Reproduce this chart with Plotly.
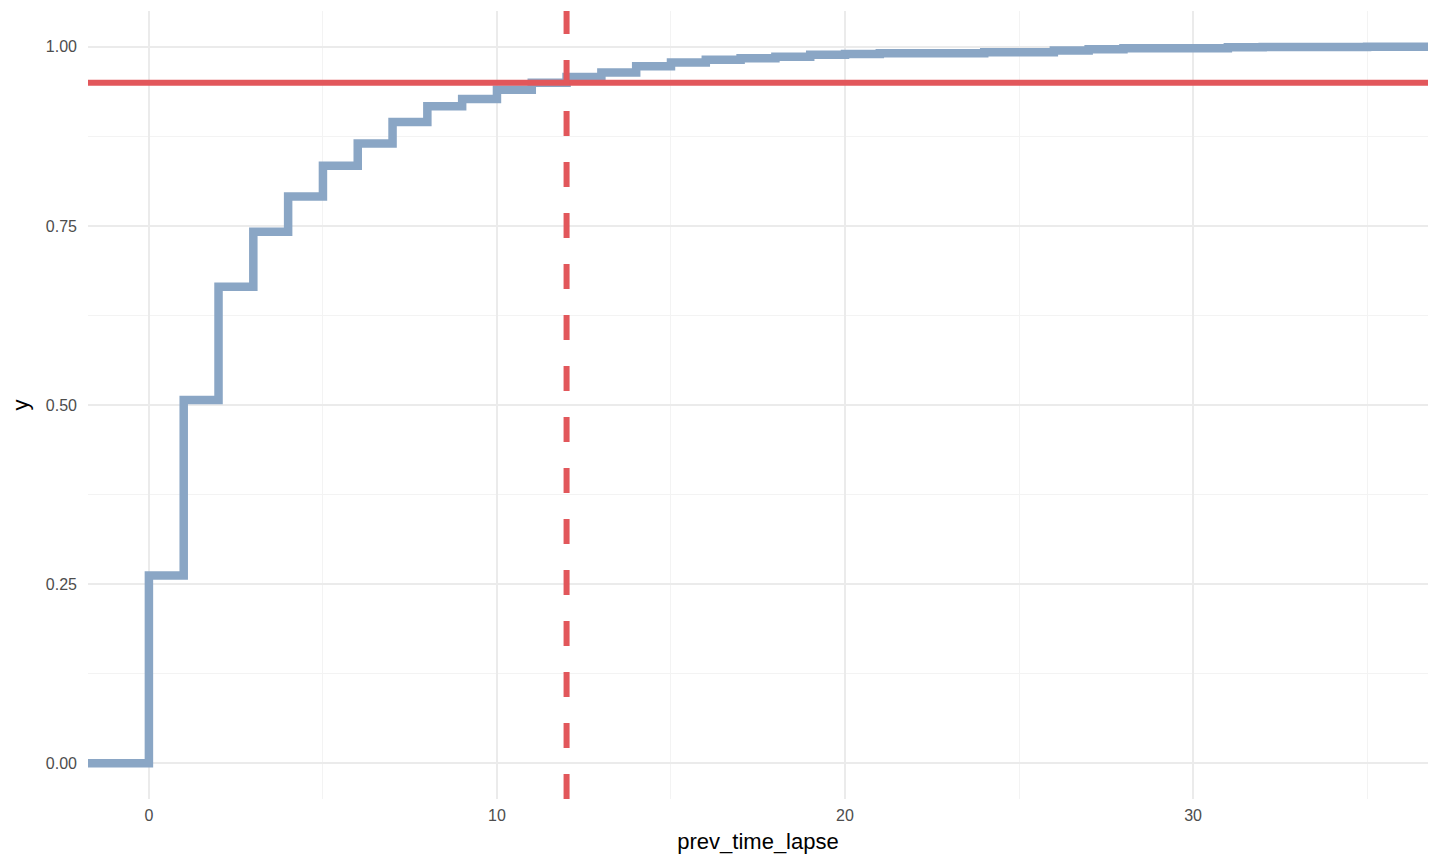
import plotly.graph_objects as go

# valores (ECDF de prev_time_lapse)
lapse = [-1.75, 0, 1, 2, 3, 4, 5, 6, 7, 8, 9, 10, 11, 12, 13, 14, 15, 16, 17,
         18, 19, 20, 21, 22, 23, 24, 25, 26, 27, 28, 29, 30, 31, 32, 33, 34, 35, 36.75]
ecdf = [0.0, 0.262, 0.507, 0.665, 0.742, 0.791, 0.834, 0.865, 0.895, 0.917,
        0.927, 0.940, 0.950, 0.958, 0.964, 0.973, 0.978, 0.982, 0.984, 0.986,
        0.989, 0.990, 0.991, 0.991, 0.991, 0.9925, 0.9925, 0.995, 0.9967,
        0.998, 0.998, 0.998, 0.9993, 0.9996, 0.9996, 0.9996, 1.0, 1.0]

umbral_y = 0.95
umbral_x = 12
x_rango = [-1.75, 36.75]
y_rango = [-0.05, 1.05]

x_ticks = [0, 10, 20, 30]
y_ticks = [0.0, 0.25, 0.5, 0.75, 1.0]
y_labels = ['0.00', '0.25', '0.50', '0.75', '1.00']

azul = '#8aa6c5'
rojo = '#e2575b'

fig = go.Figure()

# escalera de la ECDF
fig.add_trace(go.Scatter(x=lapse, y=ecdf, mode='lines', line_shape='hv',
                         line=dict(color=azul, width=8.5), showlegend=False))

# linea horizontal en 0.95
fig.add_trace(go.Scatter(x=x_rango, y=[umbral_y, umbral_y], mode='lines',
                         line=dict(color=rojo, width=6), showlegend=False))

# linea vertical discontinua
fig.add_trace(go.Scatter(x=[umbral_x, umbral_x], y=y_rango, mode='lines',
                         line=dict(color=rojo, width=6, dash='25px,26px'),
                         showlegend=False))

# el body del html tiene 8px de margen, por eso 1424x848
fig.update_layout(
    width=1424, height=848,
    margin=dict(l=80, r=4, t=3, b=57),
    plot_bgcolor='white', paper_bgcolor='white',
    font=dict(family='Liberation Sans, Arial, sans-serif', size=16, color='#4d4d4d'),
)

fig.update_xaxes(range=x_rango, tickvals=x_ticks, showline=False, zeroline=False,
                 gridcolor='#ebebeb', gridwidth=2, ticks='', ticklabelstandoff=5,
                 minor=dict(dtick=5, tick0=0, showgrid=True, gridcolor='#f3f3f3', gridwidth=1),
                 title=dict(text='prev_time_lapse', font=dict(size=22, color='black'), standoff=10))
fig.update_yaxes(range=y_rango, tickvals=y_ticks, ticktext=y_labels, showline=False,
                 zeroline=False, gridcolor='#ebebeb', gridwidth=2, ticks='',
                 ticklabelstandoff=10,
                 minor=dict(dtick=0.125, tick0=0, showgrid=True, gridcolor='#f3f3f3', gridwidth=1),
                 title=dict(text='y', font=dict(size=22, color='black'), standoff=12))

fig.write_html('out.html')
